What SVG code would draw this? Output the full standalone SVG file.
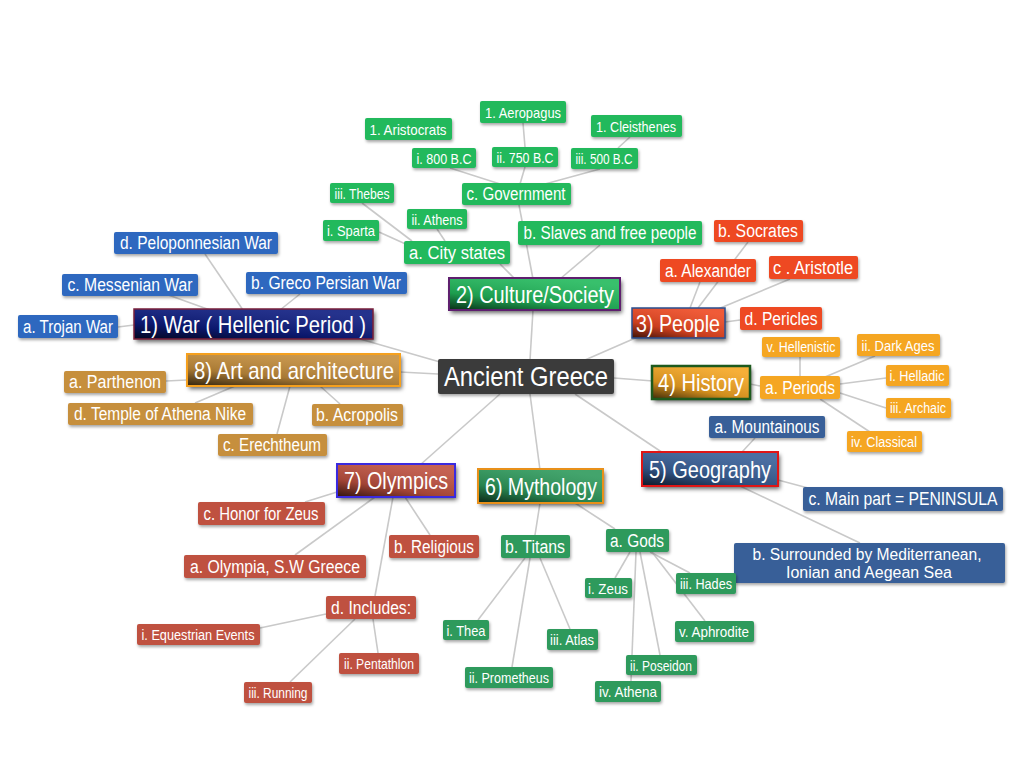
<svg xmlns="http://www.w3.org/2000/svg" width="1024" height="768" viewBox="0 0 1024 768">
<defs>
<filter id="sh" x="-10%" y="-20%" width="130%" height="160%">
<feDropShadow dx="1" dy="2" stdDeviation="1.5" flood-color="#000" flood-opacity="0.35"/>
</filter>
<filter id="shm" x="-10%" y="-20%" width="130%" height="170%">
<feDropShadow dx="2" dy="3" stdDeviation="2" flood-color="#000" flood-opacity="0.6"/>
</filter>
<linearGradient id="shade" x1="0" y1="1" x2="0.6" y2="0">
<stop offset="0" stop-color="#000" stop-opacity="0.75"/>
<stop offset="0.4" stop-color="#000" stop-opacity="0.15"/>
<stop offset="1" stop-color="#fff" stop-opacity="0.1"/>
</linearGradient>
<style>
rect.n{filter:url(#sh)}
rect.m{filter:url(#shm)}
text{font-family:"Liberation Sans Narrow","Liberation Sans",Arial,sans-serif;fill:#fff;text-anchor:middle;dominant-baseline:central}
.f16{font-size:18px}
.f15{font-size:16px}
.f13{font-size:15px}
.f12{font-size:14px}
.f20{font-size:24px}
.f24{font-size:27px}
.cul{fill:#21b95b}
.war{fill:#2d68bf}
.art{fill:#c68f3e}
.ppl{fill:#ee4a24}
.his{fill:#f5a623}
.geo{fill:#375f98}
.oly{fill:#bf513f}
.myt{fill:#2f9a5b}
.edge{stroke:#c9c9c9;stroke-width:1.6;fill:none}
.ov{fill:url(#shade)}
</style>
</defs>

<g id="connectors" class="edge">
<line x1="530" y1="360" x2="533" y2="310"/>
<line x1="585" y1="360" x2="640" y2="336"/>
<line x1="614" y1="378" x2="653" y2="381"/>
<line x1="575" y1="394" x2="666" y2="455"/>
<line x1="530" y1="394" x2="540" y2="470"/>
<line x1="500" y1="394" x2="420" y2="465"/>
<line x1="438" y1="374" x2="400" y2="372"/>
<line x1="440" y1="362" x2="360" y2="339"/>
<line x1="533" y1="279" x2="519" y2="205"/>
<line x1="560" y1="279" x2="600" y2="245"/>
<line x1="500" y1="264" x2="515" y2="279"/>
<line x1="450" y1="168" x2="500" y2="184"/>
<line x1="525" y1="167" x2="520" y2="184"/>
<line x1="600" y1="169" x2="545" y2="184"/>
<line x1="523" y1="123" x2="525" y2="147"/>
<line x1="630" y1="137" x2="618" y2="148"/>
<line x1="379" y1="232" x2="410" y2="246"/>
<line x1="437" y1="229" x2="445" y2="241"/>
<line x1="362" y1="203" x2="412" y2="241"/>
<line x1="205" y1="254" x2="243" y2="310"/>
<line x1="160" y1="292" x2="210" y2="310"/>
<line x1="300" y1="294" x2="280" y2="310"/>
<line x1="118" y1="327" x2="134" y2="325"/>
<line x1="166" y1="381" x2="187" y2="380"/>
<line x1="195" y1="403" x2="235" y2="386"/>
<line x1="277" y1="434" x2="290" y2="386"/>
<line x1="340" y1="404" x2="320" y2="386"/>
<line x1="700" y1="282" x2="690" y2="308"/>
<line x1="748" y1="242" x2="698" y2="308"/>
<line x1="790" y1="279" x2="718" y2="309"/>
<line x1="725" y1="322" x2="740" y2="320"/>
<line x1="750" y1="384" x2="760" y2="386"/>
<line x1="800" y1="357" x2="800" y2="377"/>
<line x1="825" y1="377" x2="875" y2="356"/>
<line x1="840" y1="384" x2="886" y2="378"/>
<line x1="840" y1="393" x2="886" y2="408"/>
<line x1="820" y1="399" x2="870" y2="432"/>
<line x1="755" y1="438" x2="742" y2="452"/>
<line x1="778" y1="480" x2="808" y2="488"/>
<line x1="740" y1="486" x2="860" y2="543"/>
<line x1="337" y1="492" x2="305" y2="502"/>
<line x1="375" y1="497" x2="295" y2="555"/>
<line x1="405" y1="497" x2="430" y2="535"/>
<line x1="393" y1="497" x2="375" y2="596"/>
<line x1="326" y1="614" x2="260" y2="628"/>
<line x1="373" y1="619" x2="378" y2="653"/>
<line x1="355" y1="619" x2="290" y2="682"/>
<line x1="540" y1="503" x2="535" y2="535"/>
<line x1="575" y1="503" x2="615" y2="529"/>
<line x1="525" y1="558" x2="478" y2="620"/>
<line x1="530" y1="558" x2="512" y2="667"/>
<line x1="540" y1="558" x2="570" y2="629"/>
<line x1="630" y1="552" x2="615" y2="578"/>
<line x1="640" y1="552" x2="660" y2="655"/>
<line x1="636" y1="552" x2="631" y2="681"/>
<line x1="650" y1="552" x2="690" y2="573"/>
<line x1="652" y1="552" x2="705" y2="621"/>
</g>

<g id="center"><rect class="n" x="438" y="359" width="176" height="35" rx="2" fill="#3b3a3a"/><text class="f24" x="526" y="377" textLength="164" lengthAdjust="spacingAndGlyphs">Ancient Greece</text></g>

<g id="culture"><rect class="m cul" x="449" y="278" width="171" height="32"/><rect class="ov" x="449" y="278" width="171" height="32"/><rect x="449" y="278" width="171" height="32" fill="none" stroke="#5e1f6e" stroke-width="2"/><text class="f20" x="535" y="294" textLength="158" lengthAdjust="spacingAndGlyphs">2) Culture/Society</text></g>
<g id="aeropagus"><rect class="n cul" x="480" y="101" width="86" height="22" rx="2"/><text class="f13" x="523" y="112" textLength="76" lengthAdjust="spacingAndGlyphs">1. Aeropagus</text></g>
<g id="aristocrats"><rect class="n cul" x="365" y="118" width="87" height="22" rx="2"/><text class="f13" x="408" y="129" textLength="77" lengthAdjust="spacingAndGlyphs">1. Aristocrats</text></g>
<g id="cleisthenes"><rect class="n cul" x="591" y="115" width="91" height="22" rx="2"/><text class="f13" x="636" y="126" textLength="80" lengthAdjust="spacingAndGlyphs">1. Cleisthenes</text></g>
<g id="bc800"><rect class="n cul" x="412" y="148" width="64" height="20" rx="2"/><text class="f13" x="444" y="158" textLength="55" lengthAdjust="spacingAndGlyphs">i. 800 B.C</text></g>
<g id="bc750"><rect class="n cul" x="492" y="147" width="66" height="20" rx="2"/><text class="f13" x="525" y="157" textLength="57" lengthAdjust="spacingAndGlyphs">ii. 750 B.C</text></g>
<g id="bc500"><rect class="n cul" x="571" y="148" width="67" height="21" rx="2"/><text class="f13" x="604" y="158.5" textLength="57" lengthAdjust="spacingAndGlyphs">iii. 500 B.C</text></g>
<g id="government"><rect class="n cul" x="462" y="183" width="109" height="22" rx="2"/><text class="f16" x="516" y="194" textLength="99" lengthAdjust="spacingAndGlyphs">c. Government</text></g>
<g id="thebes"><rect class="n cul" x="330" y="183" width="64" height="20" rx="2"/><text class="f13" x="362" y="193" textLength="55" lengthAdjust="spacingAndGlyphs">iii. Thebes</text></g>
<g id="athens"><rect class="n cul" x="407" y="209" width="60" height="20" rx="2"/><text class="f13" x="437" y="219" textLength="51" lengthAdjust="spacingAndGlyphs">ii. Athens</text></g>
<g id="sparta"><rect class="n cul" x="323" y="220" width="56" height="21" rx="2"/><text class="f13" x="351" y="230.5" textLength="48" lengthAdjust="spacingAndGlyphs">i. Sparta</text></g>
<g id="citystates"><rect class="n cul" x="404" y="241" width="106" height="23" rx="2"/><text class="f16" x="457" y="252.5" textLength="96" lengthAdjust="spacingAndGlyphs">a.  City states</text></g>
<g id="slaves"><rect class="n cul" x="518" y="221" width="184" height="24" rx="2"/><text class="f16" x="610" y="233" textLength="173" lengthAdjust="spacingAndGlyphs">b. Slaves and free people</text></g>

<g id="war"><rect class="m" x="134" y="309" width="239" height="30" fill="#0c1c80"/><rect class="ov" x="134" y="309" width="239" height="30"/><rect x="134" y="309" width="239" height="30" fill="none" stroke="#7a1f3a" stroke-width="1.5"/><text class="f20" x="253" y="324" textLength="226" lengthAdjust="spacingAndGlyphs">1) War ( Hellenic Period )</text></g>
<g id="peloponnesian"><rect class="n war" x="114" y="232" width="164" height="22" rx="2"/><text class="f16" x="196" y="243" textLength="152" lengthAdjust="spacingAndGlyphs">d. Peloponnesian War</text></g>
<g id="messenian"><rect class="n war" x="62" y="274" width="136" height="22" rx="2"/><text class="f16" x="130" y="285" textLength="125" lengthAdjust="spacingAndGlyphs">c. Messenian War</text></g>
<g id="greco"><rect class="n war" x="246" y="272" width="161" height="22" rx="2"/><text class="f16" x="326" y="283" textLength="150" lengthAdjust="spacingAndGlyphs">b. Greco Persian War</text></g>
<g id="trojan"><rect class="n war" x="18" y="315" width="100" height="23" rx="2"/><text class="f16" x="68" y="326.5" textLength="90" lengthAdjust="spacingAndGlyphs">a. Trojan War</text></g>

<g id="art"><rect class="m art" x="187" y="354" width="213" height="32"/><rect class="ov" x="187" y="354" width="213" height="32"/><rect x="187" y="354" width="213" height="32" fill="none" stroke="#f5a01e" stroke-width="2"/><text class="f20" x="294" y="370" textLength="200" lengthAdjust="spacingAndGlyphs">8) Art and architecture</text></g>
<g id="parthenon"><rect class="n art" x="64" y="371" width="102" height="22" rx="2"/><text class="f16" x="115" y="382" textLength="92" lengthAdjust="spacingAndGlyphs">a.  Parthenon</text></g>
<g id="temple"><rect class="n art" x="68" y="403" width="185" height="22" rx="2"/><text class="f16" x="160" y="414" textLength="172" lengthAdjust="spacingAndGlyphs">d. Temple of Athena Nike</text></g>
<g id="acropolis"><rect class="n art" x="312" y="404" width="91" height="22" rx="2"/><text class="f16" x="357" y="415" textLength="82" lengthAdjust="spacingAndGlyphs">b. Acropolis</text></g>
<g id="erechtheum"><rect class="n art" x="218" y="434" width="109" height="22" rx="2"/><text class="f16" x="272" y="445" textLength="98" lengthAdjust="spacingAndGlyphs">c. Erechtheum</text></g>

<g id="people"><rect class="m ppl" x="632" y="308" width="93" height="30"/><rect class="ov" x="632" y="308" width="93" height="30"/><rect x="632" y="308" width="93" height="30" fill="none" stroke="#2a4f90" stroke-width="1.5"/><text class="f20" x="678" y="323" textLength="84" lengthAdjust="spacingAndGlyphs">3) People</text></g>
<g id="socrates"><rect class="n ppl" x="714" y="220" width="89" height="22" rx="2"/><text class="f16" x="758" y="231" textLength="80" lengthAdjust="spacingAndGlyphs">b. Socrates</text></g>
<g id="alexander"><rect class="n ppl" x="660" y="259" width="96" height="23" rx="2"/><text class="f16" x="708" y="270.5" textLength="86" lengthAdjust="spacingAndGlyphs">a. Alexander</text></g>
<g id="aristotle"><rect class="n ppl" x="769" y="256" width="89" height="23" rx="2"/><text class="f16" x="813" y="267.5" textLength="80" lengthAdjust="spacingAndGlyphs">c . Aristotle</text></g>
<g id="pericles"><rect class="n ppl" x="740" y="307" width="82" height="23" rx="2"/><text class="f16" x="781" y="318.5" textLength="73" lengthAdjust="spacingAndGlyphs">d. Pericles</text></g>

<g id="history"><rect class="m his" x="652" y="366" width="98" height="33"/><rect class="ov" x="652" y="366" width="98" height="33"/><rect x="652" y="366" width="98" height="33" fill="none" stroke="#1d5a1d" stroke-width="2.5"/><text class="f20" x="701" y="382.5" textLength="86" lengthAdjust="spacingAndGlyphs">4) History</text></g>
<g id="hellenistic"><rect class="n his" x="762" y="337" width="78" height="20" rx="2"/><text class="f12" x="801" y="347" textLength="69" lengthAdjust="spacingAndGlyphs">v. Hellenistic</text></g>
<g id="darkages"><rect class="n his" x="857" y="334" width="83" height="22" rx="2"/><text class="f13" x="898" y="345" textLength="73" lengthAdjust="spacingAndGlyphs">ii. Dark Ages</text></g>
<g id="periods"><rect class="n his" x="760" y="376" width="80" height="23" rx="2"/><text class="f16" x="800" y="387.5" textLength="70" lengthAdjust="spacingAndGlyphs">a. Periods</text></g>
<g id="helladic"><rect class="n his" x="886" y="365" width="63" height="21" rx="2"/><text class="f12" x="917" y="375.5" textLength="55" lengthAdjust="spacingAndGlyphs">i. Helladic</text></g>
<g id="archaic"><rect class="n his" x="886" y="398" width="65" height="20" rx="2"/><text class="f12" x="918" y="408" textLength="56" lengthAdjust="spacingAndGlyphs">iii. Archaic</text></g>
<g id="classical"><rect class="n his" x="847" y="431" width="75" height="21" rx="2"/><text class="f12" x="884" y="441.5" textLength="66" lengthAdjust="spacingAndGlyphs">iv. Classical</text></g>

<g id="geography"><rect class="m geo" x="642" y="452" width="136" height="34"/><rect class="ov" x="642" y="452" width="136" height="34"/><rect x="642" y="452" width="136" height="34" fill="none" stroke="#e01515" stroke-width="2"/><text class="f20" x="710" y="469" textLength="122" lengthAdjust="spacingAndGlyphs">5) Geography</text></g>
<g id="mountainous"><rect class="n geo" x="709" y="416" width="116" height="22" rx="2"/><text class="f16" x="767" y="427" textLength="105" lengthAdjust="spacingAndGlyphs">a. Mountainous</text></g>
<g id="mainpart"><rect class="n geo" x="803" y="487" width="200" height="24" rx="2"/><text class="f16" x="903" y="499" textLength="189" lengthAdjust="spacingAndGlyphs">c. Main part = PENINSULA</text></g>
<g id="surrounded"><rect class="n geo" x="734" y="543" width="271" height="40" rx="2"/><text class="f15" x="867" y="554" textLength="229" lengthAdjust="spacingAndGlyphs">b. Surrounded by Mediterranean,</text><text class="f15" x="869" y="572" textLength="166" lengthAdjust="spacingAndGlyphs">Ionian and Aegean Sea</text></g>

<g id="olympics"><rect class="m oly" x="337" y="464" width="118" height="33"/><rect class="ov" x="337" y="464" width="118" height="33"/><rect x="337" y="464" width="118" height="33" fill="none" stroke="#3a2ae0" stroke-width="2"/><text class="f20" x="396" y="480.5" textLength="104" lengthAdjust="spacingAndGlyphs">7) Olympics</text></g>
<g id="honor"><rect class="n oly" x="198" y="502" width="127" height="23" rx="2"/><text class="f16" x="261" y="513.5" textLength="115" lengthAdjust="spacingAndGlyphs">c. Honor for Zeus</text></g>
<g id="religious"><rect class="n oly" x="389" y="535" width="90" height="23" rx="2"/><text class="f16" x="434" y="546.5" textLength="80" lengthAdjust="spacingAndGlyphs">b. Religious</text></g>
<g id="olympia"><rect class="n oly" x="184" y="555" width="182" height="23" rx="2"/><text class="f16" x="275" y="566.5" textLength="170" lengthAdjust="spacingAndGlyphs">a. Olympia, S.W Greece</text></g>
<g id="includes"><rect class="n oly" x="326" y="596" width="90" height="23" rx="2"/><text class="f16" x="371" y="607.5" textLength="80" lengthAdjust="spacingAndGlyphs">d. Includes:</text></g>
<g id="equestrian"><rect class="n oly" x="137" y="624" width="123" height="21" rx="2"/><text class="f13" x="198" y="634.5" textLength="113" lengthAdjust="spacingAndGlyphs">i. Equestrian Events</text></g>
<g id="pentathlon"><rect class="n oly" x="339" y="653" width="80" height="21" rx="2"/><text class="f13" x="379" y="663.5" textLength="70" lengthAdjust="spacingAndGlyphs">ii. Pentathlon</text></g>
<g id="running"><rect class="n oly" x="244" y="682" width="68" height="21" rx="2"/><text class="f13" x="278" y="692.5" textLength="59" lengthAdjust="spacingAndGlyphs">iii. Running</text></g>

<g id="mythology"><rect class="m myt" x="478" y="469" width="125" height="34"/><rect class="ov" x="478" y="469" width="125" height="34"/><rect x="478" y="469" width="125" height="34" fill="none" stroke="#e8901a" stroke-width="2"/><text class="f20" x="541" y="486" textLength="112" lengthAdjust="spacingAndGlyphs">6) Mythology</text></g>
<g id="titans"><rect class="n myt" x="501" y="535" width="69" height="23" rx="2"/><text class="f16" x="535" y="546.5" textLength="60" lengthAdjust="spacingAndGlyphs">b. Titans</text></g>
<g id="gods"><rect class="n myt" x="606" y="529" width="63" height="23" rx="2"/><text class="f16" x="637" y="540.5" textLength="54" lengthAdjust="spacingAndGlyphs">a. Gods</text></g>
<g id="zeus"><rect class="n myt" x="585" y="578" width="47" height="20" rx="2"/><text class="f13" x="608" y="588" textLength="40" lengthAdjust="spacingAndGlyphs">i. Zeus</text></g>
<g id="hades"><rect class="n myt" x="676" y="573" width="60" height="21" rx="2"/><text class="f13" x="706" y="583.5" textLength="52" lengthAdjust="spacingAndGlyphs">iii. Hades</text></g>
<g id="thea"><rect class="n myt" x="443" y="620" width="46" height="20" rx="2"/><text class="f13" x="466" y="630" textLength="39" lengthAdjust="spacingAndGlyphs">i. Thea</text></g>
<g id="atlas"><rect class="n myt" x="547" y="629" width="51" height="21" rx="2"/><text class="f13" x="572" y="639.5" textLength="44" lengthAdjust="spacingAndGlyphs">iii. Atlas</text></g>
<g id="aphrodite"><rect class="n myt" x="675" y="621" width="79" height="21" rx="2"/><text class="f13" x="714" y="631.5" textLength="70" lengthAdjust="spacingAndGlyphs">v. Aphrodite</text></g>
<g id="poseidon"><rect class="n myt" x="626" y="655" width="71" height="20" rx="2"/><text class="f13" x="661" y="665" textLength="62" lengthAdjust="spacingAndGlyphs">ii. Poseidon</text></g>
<g id="prometheus"><rect class="n myt" x="465" y="667" width="88" height="21" rx="2"/><text class="f13" x="509" y="677.5" textLength="80" lengthAdjust="spacingAndGlyphs">ii. Prometheus</text></g>
<g id="athena"><rect class="n myt" x="595" y="681" width="66" height="21" rx="2"/><text class="f13" x="628" y="691.5" textLength="58" lengthAdjust="spacingAndGlyphs">iv. Athena</text></g>
</svg>
